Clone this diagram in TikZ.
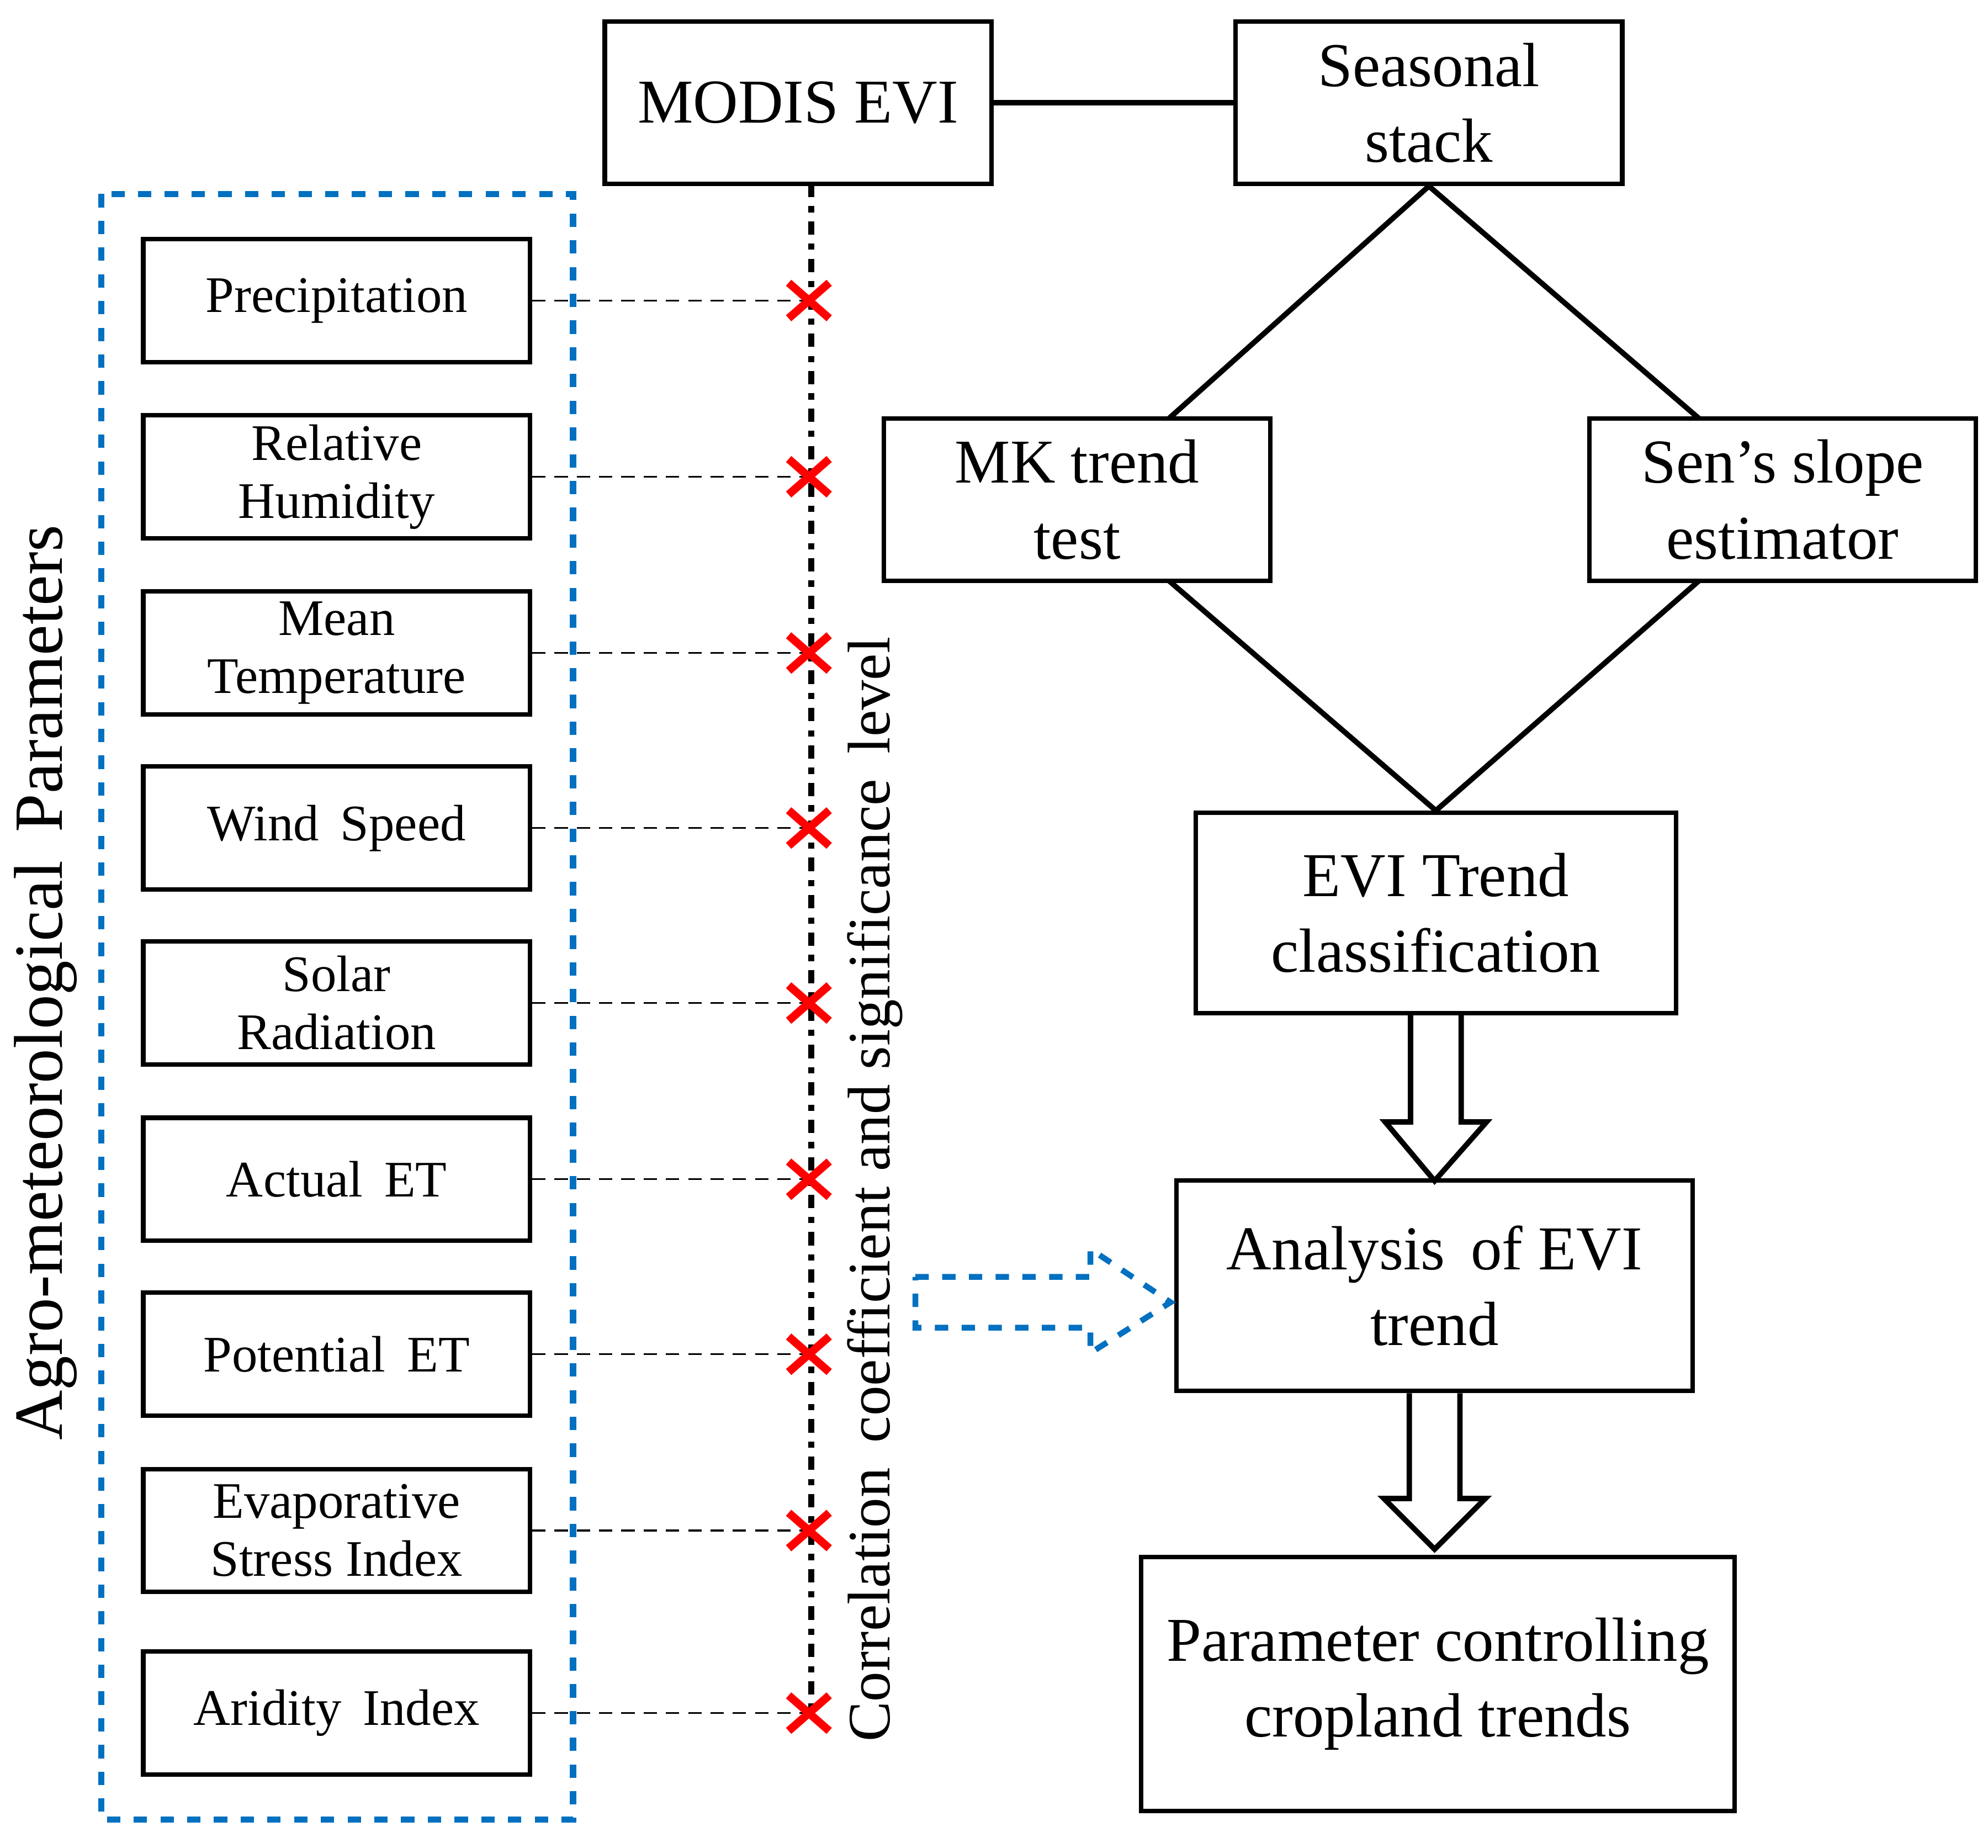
\documentclass[tikz,border=0pt]{standalone}
\usepackage{fontspec}
\setmainfont{Liberation Serif}
\usetikzlibrary{positioning,calc}

\definecolor{dashblue}{RGB}{0,112,192}
\tikzset{
  bigbox/.style={draw,line width=1pt,minimum width=3.05cm,minimum height=1.28cm,inner sep=0pt,align=center,font=\fontsize{14}{17}\selectfont},
  parbox/.style={draw,line width=1pt,minimum width=3.05cm,minimum height=0.97cm,inner sep=0pt,align=center,font=\fontsize{11.5}{13}\selectfont},
  cross/.style={red,line width=1.8pt},
  link/.style={densely dashed,thin},
}

\begin{document}
\begin{tikzpicture}[x=1cm,y=1cm]
\useasboundingbox (0,0) rectangle (15.68,-14.57);

% flow on the right
\node[bigbox] (modis) at (6.295,-0.81) {MODIS EVI};
\node[bigbox] (stack) at (11.27,-0.81) {Seasonal\\stack};
\node[bigbox] (mk) at (8.495,-3.94) {MK trend\\test};
\node[bigbox] (sen) at (14.06,-3.94) {Sen's slope\\estimator};
\node[bigbox,minimum width=3.79cm,minimum height=1.58cm] (class) at (11.325,-7.2) {EVI Trend\\classification};
\node[bigbox,minimum width=4.07cm,minimum height=1.66cm] (anal) at (11.315,-10.14) {Analysis\, of EVI\\trend};
\node[bigbox,minimum width=4.68cm,minimum height=2.0cm] (ctrl) at (11.34,-13.28) {Parameter controlling\\cropland trends};

\draw[line width=1.2pt] (modis.east) -- (stack.west);
\draw[line width=1.2pt] (stack.south) -- (9.22,-3.30);
\draw[line width=1.2pt] (stack.south) -- (13.40,-3.30);
\draw[line width=1.2pt] (9.22,-4.58) -- (class.north);
\draw[line width=1.2pt] (13.40,-4.58) -- (class.north);

% block arrows
\draw[line width=1.2pt] ($(class.south)+(-0.2,0)$) -- ++(0,-0.84) -- ++(-0.2,0) -- ($(anal.north)+(0,-0.02)$)
  -- ($(class.south)+(0.4,-0.84)$) -- ++(-0.2,0) -- ++(0,0.84);
\draw[line width=1.2pt] ($(anal.south)+(-0.2,0)$) -- ++(0,-0.83) -- ++(-0.2,0) -- ($(anal.south)+(0,-1.23)$)
  -- ($(anal.south)+(0.4,-0.83)$) -- ++(-0.2,0) -- ++(0,0.83);
\draw[line width=1.3pt,dashed,dashblue] (7.22,-10.07) -- (8.60,-10.07) -- (8.60,-9.85) -- ($(anal.west)+(-0.03,-0.13)$)
  -- (8.60,-10.67) -- (8.60,-10.47) -- (7.22,-10.47) -- cycle;

% parameters on the left
\coordinate (axtop) at (6.40,-1.45);
\coordinate (axbot) at (6.40,-13.50);
\draw[line width=1.4pt,dash dot] (axtop) -- (axbot);
\foreach \name/\txt/\y in {
  prec/Precipitation/2.37,
  hum/{Relative\\Humidity}/3.76,
  temp/{Mean\\Temperature}/5.15,
  wind/{Wind\, Speed}/6.53,
  sol/{Solar\\Radiation}/7.91,
  aet/{Actual\, ET}/9.30,
  pet/{Potential\, ET}/10.68,
  esi/{Evaporative\\Stress Index}/12.07,
  ari/{Aridity\, Index}/13.51} {
  \node[parbox] (\name) at (2.655,-\y) {\txt};
  \coordinate (\name x) at (6.38,-\y);
  \draw[link] (\name.east) -- (\name x);
  \draw[cross] ($(\name x)+(-0.16,-0.14)$) -- ($(\name x)+(0.16,0.14)$);
  \draw[cross] ($(\name x)+(-0.16,0.14)$) -- ($(\name x)+(0.16,-0.14)$);
}
\draw[line width=1.4pt,dashed,dashblue] (0.80,-1.53) rectangle (4.52,-14.35);

\node[rotate=90,font=\fontsize{15.5}{18}\selectfont] (agro) at (0.36,-7.75) {Agro-meteorological\, Parameters};
\node[rotate=90,font=\fontsize{13.5}{16}\selectfont] (corr) at (6.90,-9.38) {Correlation\, coefficient and significance\, level};
\end{tikzpicture}
\end{document}
